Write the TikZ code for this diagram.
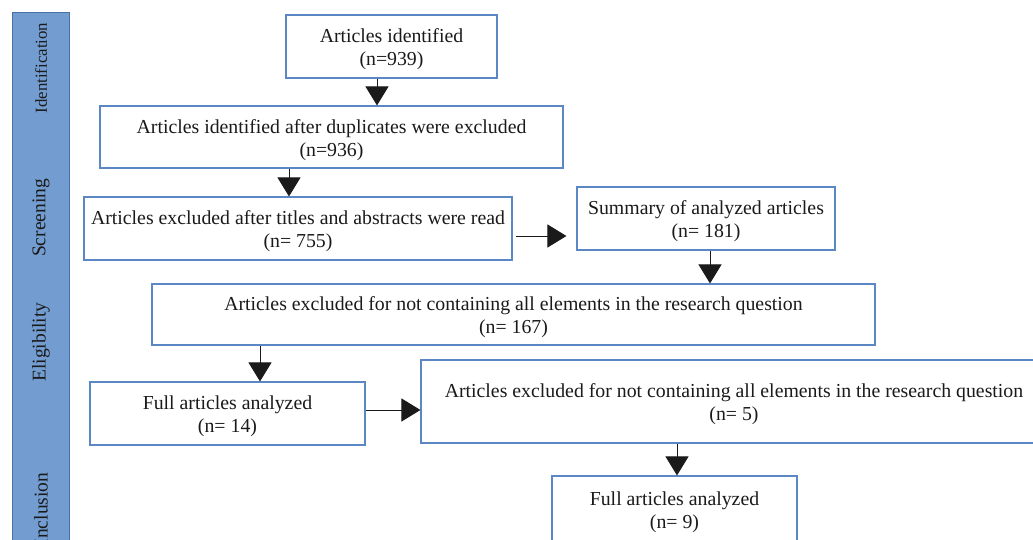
\documentclass[tikz,border=0pt]{standalone}
\usepackage{fontspec}
\setmainfont{Liberation Serif}
\usetikzlibrary{arrows.meta}
\definecolor{boxblue}{HTML}{5B87C5}
\definecolor{sidefill}{HTML}{739DD0}
\definecolor{sideline}{HTML}{4A70A8}
\definecolor{txt}{HTML}{1A1A1A}
\newcommand{\topst}{\rule{0pt}{20pt}}
\begin{document}
\begin{tikzpicture}[x=1pt,y=-1pt,
  bx/.style={draw=boxblue, line width=1.1pt, fill=white, inner sep=0pt, align=center,
    text=txt, font=\fontsize{19.8}{23}\selectfont},
  arr/.style={draw=txt, line width=0.9pt, -{Triangle[width=23pt,length=19pt]}},
  side/.style={rotate=90, text=txt, font=\fontsize{19.5}{21}\selectfont, inner sep=0pt}]
\useasboundingbox (0,0) rectangle (1033,540);
% sidebar
\draw[fill=sidefill, draw=sideline, line width=1pt] (12,13) rectangle (69,570);
\node[side, font=\fontsize{16.8}{18}\selectfont] (s1) at (41,68) {Identification};
\node[side] (s2) at (41,218) {Screening};
\node[side] (s3) at (41,342) {Eligibility};
\node[side] (s4) at (41,509) {Inclusion};
% boxes
\node[bx, minimum width=211pt, minimum height=63pt] (b1) at (391.5,46.5) {\topst Articles identified\\(n=939)};
\node[bx, minimum width=463pt, minimum height=62pt] (b2) at (331.5,137) {\topst Articles identified after duplicates were excluded\\(n=936)};
\node[bx, minimum width=428pt, minimum height=63pt] (b3) at (298,228.5) {\topst Articles excluded after titles and abstracts were read\\(n= 755)};
\node[bx, minimum width=258pt, minimum height=63pt] (b4) at (706,218.5) {\topst Summary of analyzed articles\\(n= 181)};
\node[bx, minimum width=723pt, minimum height=61pt] (b5) at (513.5,314.5) {\topst Articles excluded for not containing all elements in the research question\\(n= 167)};
\node[bx, minimum width=275pt, minimum height=63pt] (b6) at (227.5,413.5) {\topst Full articles analyzed\\(n= 14)};
\node[bx, minimum width=626pt, minimum height=83pt] (b7) at (734,401.5) {\topst Articles excluded for not containing all elements in the research question\\(n= 5)};
\node[bx, minimum width=245pt, minimum height=66pt] (b8) at (674.5,509) {\topst Full articles analyzed\\(n= 9)};
% arrow guide coordinates
\coordinate (x1) at (377,0);
\coordinate (x2) at (289,0);
\coordinate (y3) at (0,236);
\coordinate (x4) at (710,0);
\coordinate (x5) at (260,0);
\coordinate (y6) at (0,410);
\coordinate (x7) at (677,0);
% arrows
\draw[arr] (b1.south -| x1) -- (b2.north -| x1);
\draw[arr] (b2.south -| x2) -- (b3.north -| x2);
\draw[arr] ([xshift=3pt]b3.east |- y3) -- ([xshift=-10pt]b4.west |- y3);
\draw[arr] (b4.south -| x4) -- (b5.north -| x4);
\draw[arr] (b5.south -| x5) -- (b6.north -| x5);
\draw[arr] (b6.east |- y6) -- (b7.west |- y6);
\draw[arr] (b7.south -| x7) -- (b8.north -| x7);
\end{tikzpicture}
\end{document}
